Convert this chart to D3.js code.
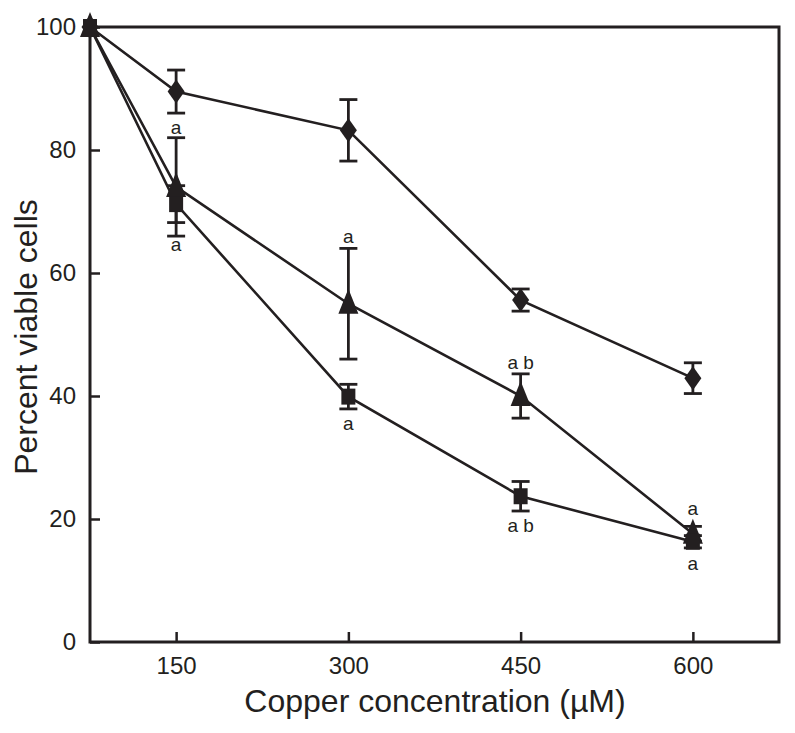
<!DOCTYPE html>
<html><head><meta charset="utf-8">
<script src="https://cdn.jsdelivr.net/npm/d3@7/dist/d3.min.js"></script>
<style>body{margin:0;background:#fff}svg{display:block}text{font-family:"Liberation Sans",Arial,sans-serif;fill:#231f20}</style>
</head><body><svg id="c" width="795" height="733"></svg>
<script>
// Concentrations (first point = control, drawn at the left edge)
const conc = [75, 150, 300, 450, 600];
const xTicks = [150, 300, 450, 600];
const yTicks = [0, 20, 40, 60, 80, 100];

const diamondVals = [100, 89.5, 83.2, 55.6, 42.9];
const diamondErr  = [0, 3.5, 5.0, 1.8, 2.5];
const triangleVals = [100, 74.0, 55.0, 40.0, 17.6];
const triangleErr  = [0, 8.0, 9.0, 3.6, 1.2];
const squareVals = [100, 71.2, 39.9, 23.7, 16.3];
const squareErr  = [0, 3.0, 2.0, 2.4, 1.0];

const annoX    = [150, 150, 300, 300, 450, 450, 600, 600];
const annoY    = [83.7, 64.6, 65.9, 35.6, 45.5, 19.0, 21.8, 12.8];
const annoText = ["a", "a", "a", "a", "a b", "a b", "a", "a"];

const svg = d3.select("#c");
const L = 90, R = 779, T = 27, B = 642;
const x = d3.scaleLinear().domain([75, 675]).range([L, R]);
const y = d3.scaleLinear().domain([0, 100]).range([B, T]);
const ink = "#231f20";

// frame
svg.append("rect").attr("x", L).attr("y", T).attr("width", R - L).attr("height", B - T)
  .attr("fill", "none").attr("stroke", ink).attr("stroke-width", 3);

// axes with inward ticks
const xAxis = svg.append("g").attr("transform", `translate(0,${B})`)
  .call(d3.axisBottom(x).tickValues(xTicks).tickSize(-10).tickPadding(15).tickFormat(d3.format("d")));
const yAxis = svg.append("g").attr("transform", `translate(${L},0)`)
  .call(d3.axisLeft(y).tickValues(yTicks).tickSize(-10).tickPadding(14).tickFormat(d3.format("d")));
[xAxis, yAxis].forEach(g => {
  g.select(".domain").remove();
  g.selectAll(".tick line").attr("stroke", ink).attr("stroke-width", 2.5);
  g.selectAll(".tick text").attr("font-size", 24).attr("fill", ink);
});
xAxis.selectAll(".tick text").attr("dy", "0.71em");

svg.append("text").attr("x", 435).attr("y", 712).attr("text-anchor", "middle")
  .attr("font-size", 32).text("Copper concentration (\u00b5M)");
svg.append("text").attr("transform", `translate(37,337) rotate(-90)`)
  .attr("text-anchor", "middle").attr("font-size", 32).text("Percent viable cells");

const series = [
  {vals: diamondVals, err: diamondErr, shape: "diamond"},
  {vals: triangleVals, err: triangleErr, shape: "triangle"},
  {vals: squareVals, err: squareErr, shape: "square"}
];

const line = d3.line().x(d => x(d[0])).y(d => y(d[1]));
series.forEach(s => {
  svg.append("path").datum(conc.map((c, i) => [c, s.vals[i]]))
    .attr("d", line).attr("fill", "none").attr("stroke", ink).attr("stroke-width", 2.6);
});

// error bars
series.forEach(s => {
  conc.forEach((c, i) => {
    if (!s.err[i]) return;
    const g = svg.append("g").attr("stroke", ink).attr("stroke-width", 2.8);
    const cx = x(c), y1 = y(s.vals[i] + s.err[i]), y2 = y(s.vals[i] - s.err[i]);
    g.append("line").attr("x1", cx).attr("x2", cx).attr("y1", y1).attr("y2", y2);
    g.append("line").attr("x1", cx - 9).attr("x2", cx + 9).attr("y1", y1).attr("y2", y1);
    g.append("line").attr("x1", cx - 9).attr("x2", cx + 9).attr("y1", y2).attr("y2", y2);
  });
});

function markerPath(shape) {
  if (shape === "diamond") return "M0,-12L8.5,0L0,12L-8.5,0Z";
  if (shape === "triangle") return "M0,-15L10,10L-10,10Z";
  return "M-7,-8L7,-8L7,8L-7,8Z";
}
series.forEach(s => {
  conc.forEach((c, i) => {
    svg.append("path").attr("d", markerPath(s.shape))
      .attr("transform", `translate(${x(c)},${y(s.vals[i])})`).attr("fill", ink);
  });
});

// significance letters
annoX.forEach((c, i) => {
  svg.append("text").attr("x", x(c)).attr("y", y(annoY[i])).attr("dy", "0.35em")
    .attr("text-anchor", "middle").attr("font-size", 19).text(annoText[i]);
});
</script></body></html>
